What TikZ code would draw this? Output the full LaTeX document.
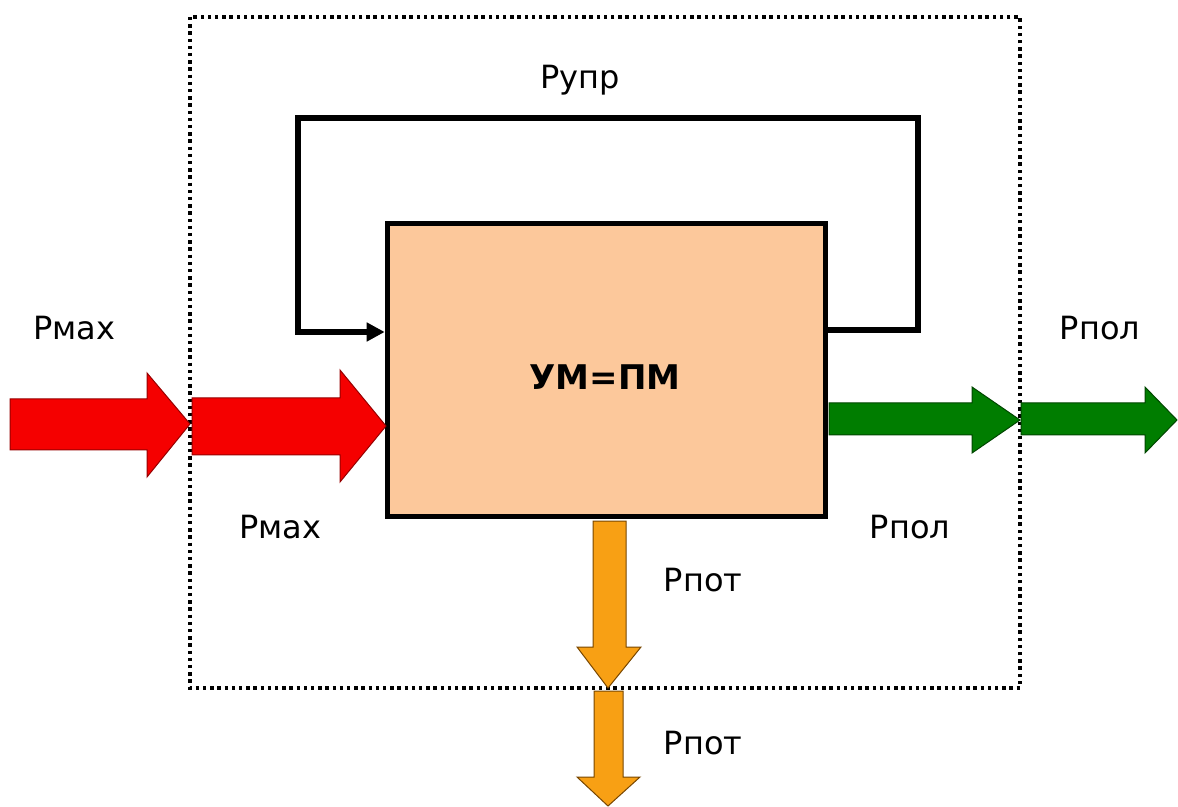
\documentclass[tikz,border=0pt]{standalone}
\usepackage{fontspec}
\setmainfont{DejaVu Sans}
\usetikzlibrary{arrows.meta}
\definecolor{peach}{RGB}{252,200,155}
\definecolor{rfill}{RGB}{245,0,0}
\definecolor{rline}{RGB}{150,0,0}
\definecolor{gfill}{RGB}{0,125,0}
\definecolor{gline}{RGB}{0,70,0}
\definecolor{ofill}{RGB}{248,160,20}
\definecolor{oline}{RGB}{120,70,0}
\tikzset{
  lbl/.style={font=\fontsize{16}{19}\selectfont, inner sep=0pt},
  redarr/.style={fill=rfill, draw=rline, line width=0.5pt},
  greenarr/.style={fill=gfill, draw=gline, line width=0.5pt},
  orangearr/.style={fill=ofill, draw=oline, line width=0.5pt},
  loopline/.style={line width=2.7pt, line join=miter},
}
\begin{document}
\begin{tikzpicture}[x=0.5pt,y=-0.5pt]
\useasboundingbox (0,0) rectangle (1178,807);
% dotted boundary
\draw[line width=1.7pt, dash pattern=on 1.7pt off 1.9pt] (190,17) rectangle (1020,688);
% main block
\node[draw, line width=2.8pt, fill=peach, minimum width=219pt, minimum height=146.5pt, inner sep=0pt] (um) at (606.5,370) {};
\node[font=\bfseries\fontsize{17}{20}\selectfont] (umt) at (605,377) {УМ=ПМ};
% feedback loop
\coordinate (fbA) at (918,330);
\coordinate (fbB) at (918,118);
\coordinate (fbC) at (298,118);
\coordinate (fbD) at (298,332);
\draw[loopline] (um.east |- fbA) -- (fbA) -- (fbB) -- (fbC) -- (fbD)
  -- ([xshift=-8pt]um.west |- fbD);
\draw[loopline, -{Triangle[length=9pt,width=9pt]}] ([xshift=-10pt]um.west |- fbD) -- (um.west |- fbD);
% red arrows
\draw[redarr] (10,399) -- (147,399) -- (147,373) -- (190,424) -- (147,477) -- (147,450) -- (10,450) -- cycle;
\draw[redarr] (192,398) -- (340,398) -- (340,370) -- (386,426) -- (340,482) -- (340,455) -- (192,455) -- cycle;
% green arrows
\draw[greenarr] (829,403) -- (972,403) -- (972,387) -- (1020,420) -- (972,453) -- (972,435) -- (829,435) -- cycle;
\draw[greenarr] (1021,403) -- (1145,403) -- (1145,387) -- (1177,420) -- (1145,453) -- (1145,435) -- (1021,435) -- cycle;
% orange arrows
\draw[orangearr] (593,521) -- (593,647) -- (577,647) -- (608,688) -- (641,647) -- (626,647) -- (626,521) -- cycle;
\draw[orangearr] (594,691) -- (594,777) -- (577,777) -- (608,806) -- (640,777) -- (623,777) -- (623,691) -- cycle;
% labels
\node[lbl] (l1) at (74,328) {Pмах};
\node[lbl] (l2) at (280,527) {Pмах};
\node[lbl] (l3) at (1100,328) {Рпол};
\node[lbl] (l4) at (910,527) {Рпол};
\node[lbl] (l5) at (703,580) {Рпот};
\node[lbl] (l6) at (703,743) {Рпот};
\node[lbl] (l7) at (580,80) {Рупр};
\end{tikzpicture}
\end{document}
